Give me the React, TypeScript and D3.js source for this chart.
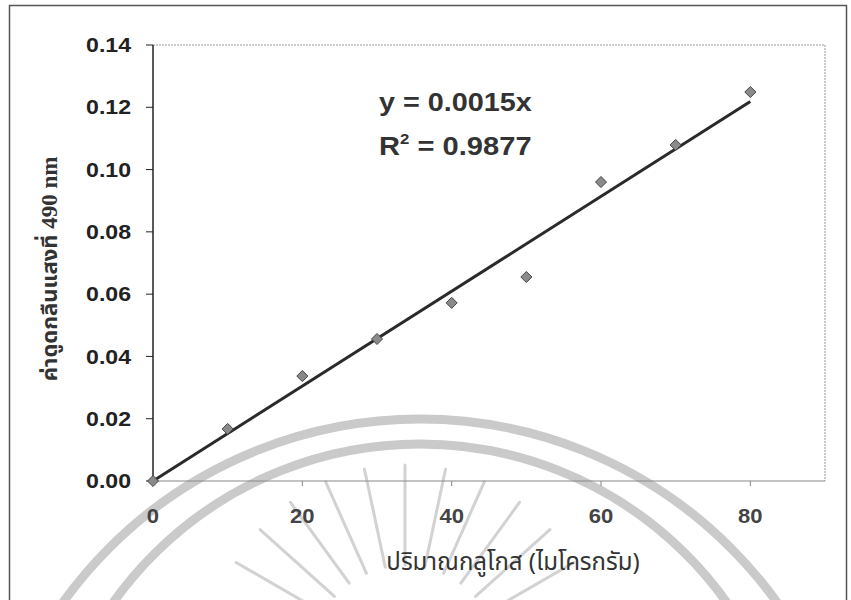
import React from "react";
import * as d3 from "d3";

const glucose = [0, 10, 20, 30, 40, 50, 60, 70, 80];
const absorbance = [0, 0.0167, 0.0337, 0.0456, 0.0572, 0.0655, 0.096, 0.1079, 0.1249];
const xTicks = [0, 20, 40, 60, 80];
const yTicks = [0, 0.02, 0.04, 0.06, 0.08, 0.1, 0.12, 0.14];
const equationText = "y = 0.0015x";
const r2Value = "= 0.9877";
const xTitle = "ปริมาณกลูโกส (ไมโครกรัม)";
const yTitleThai = "ค่าดูดกลืนแสงที่ ";
const yTitleUnit = "490 nm";
const rayAngles = [-150, -138, -126, -114, -102, -90, -78, -66, -54, -42, -30];

export default function App() {
  const W = 851;
  const H = 600;
  const x = d3.scaleLinear().domain([0, 90]).range([153, 825]);
  const y = d3.scaleLinear().domain([0, 0.14]).range([481, 45]);
  const slope =
    d3.sum(glucose.map((g, i) => g * absorbance[i])) / d3.sum(glucose.map((g) => g * g));
  const xmax = d3.max(glucose) as number;
  const trend = d3.line<number>()((([0, xmax] as number[]).map((g) => [x(g), y(slope * g)])) as any);
  const sans = "'Liberation Sans', Arial, sans-serif";
  const thai = "'Noto Sans Thai', Tahoma, 'DejaVu Sans', sans-serif";
  const diamond = d3.symbol().type(d3.symbolDiamond2).size(78)();
  const rc = [405, 660];

  return (
    <svg
      width={W}
      height={H}
      style={{ position: "absolute", left: 0, top: 0, background: "#fff" }}
    >
      <rect x={0} y={0} width={W} height={H} fill="#fff" />
      {/* watermark */}
      <g fill="none" stroke="#cacaca" strokeWidth={9}>
        <circle cx={420} cy={858} r={439} />
        <circle cx={420} cy={820} r={376} />
      </g>
      <g stroke="#d2d2d2" strokeWidth={3} strokeLinecap="round">
        {rayAngles.map((a) => {
          const r = (a * Math.PI) / 180;
          return (
            <line
              key={a}
              x1={rc[0] + 95 * Math.cos(r)}
              y1={rc[1] + 95 * Math.sin(r)}
              x2={rc[0] + 195 * Math.cos(r)}
              y2={rc[1] + 195 * Math.sin(r)}
            />
          );
        })}
      </g>
      {/* outer frame */}
      <rect x={9.5} y={5.5} width={837} height={620} fill="none" stroke="#555" strokeWidth={1.5} />
      {/* plot area border */}
      <path
        d={`M${x(0)},${y(0.14)}H${x(90)}V${y(0)}`}
        fill="none"
        stroke="#999"
        strokeWidth={1}
        strokeDasharray="2,1"
      />
      <line x1={x(0)} x2={x(90)} y1={y(0)} y2={y(0)} stroke="#888" strokeWidth={1.2} />
      <line x1={x(0)} x2={x(0)} y1={y(0.14)} y2={y(0)} stroke="#222" strokeWidth={1.5} />
      {/* y ticks */}
      {yTicks.map((t) => (
        <g key={t}>
          <line x1={x(0) - 7} x2={x(0)} y1={y(t)} y2={y(t)} stroke="#222" strokeWidth={1} />
          <text
            transform={`translate(131,${y(t)}) scale(1.1,1)`}
            textAnchor="end"
            dominantBaseline="central"
            fontFamily={sans}
            fontWeight="bold"
            fontSize={21}
            fill="#222"
          >
            {t.toFixed(2)}
          </text>
        </g>
      ))}
      {/* x ticks */}
      {xTicks.map((t) => (
        <g key={t}>
          <line x1={x(t)} x2={x(t)} y1={y(0)} y2={y(0) + 5} stroke="#888" strokeWidth={1} />
          <text
            transform={`translate(${x(t)},523) scale(1.05,1)`}
            textAnchor="middle"
            fontFamily={sans}
            fontWeight="bold"
            fontSize={21}
            fill="#444"
          >
            {t}
          </text>
        </g>
      ))}
      {/* trendline */}
      <path d={trend as string} fill="none" stroke="#2a2a2a" strokeWidth={3} />
      {/* points */}
      {glucose.map((g, i) => (
        <path
          key={g}
          d={diamond as string}
          transform={`translate(${x(g)},${y(absorbance[i])})`}
          fill="#8a8a8a"
          stroke="#444"
          strokeWidth={1}
        />
      ))}
      {/* equation */}
      <text
        transform="translate(379,111) scale(1.15,1)"
        fontFamily={sans}
        fontWeight="bold"
        fontSize={25}
        fill="#333"
      >
        {equationText}
      </text>
      <text
        transform="translate(379,155) scale(1.12,1)"
        fontFamily={sans}
        fontWeight="bold"
        fontSize={26}
        fill="#333"
      >
        R
        <tspan dy={-11} fontSize={15}>2</tspan>
        <tspan dy={11}> {r2Value}</tspan>
      </text>
      {/* axis titles */}
      <text
        x={513}
        y={570}
        textAnchor="middle"
        fontFamily={thai}
        fontSize={24}
        fill="#333"
      >
        {xTitle}
      </text>
      <text
        transform="translate(57,269) rotate(-90)"
        textAnchor="middle"
        fontFamily={thai}
        fontWeight="bold"
        fontSize={22}
        fill="#333"
      >
        {yTitleThai}
        <tspan fontFamily="'Liberation Serif', 'Times New Roman', serif" fontSize={23}>
          {yTitleUnit}
        </tspan>
      </text>
    </svg>
  );
}
